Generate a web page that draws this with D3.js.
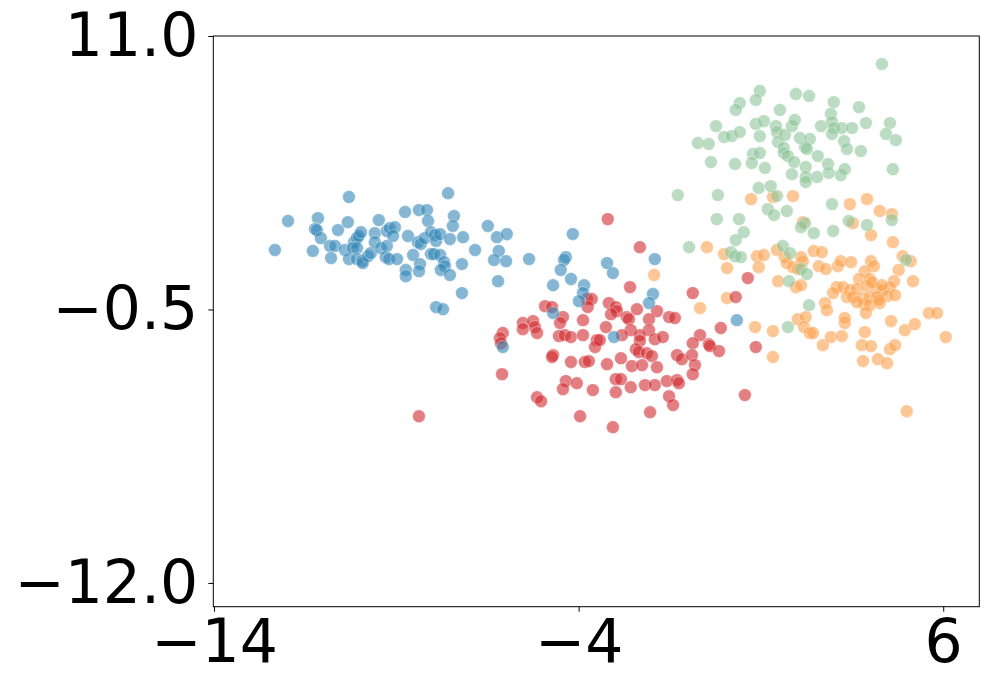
<!DOCTYPE html>
<html>
<head>
<meta charset="utf-8">
<script src="https://cdn.jsdelivr.net/npm/d3@7"></script>
<style>
  body { margin: 0; background: #fff; }
  #grafico text { font-family: "DejaVu Sans", sans-serif; }
</style>
</head>
<body>
<div id="grafico"></div>
<script>
// DATOS: cada grupo como pares [x, y]
var grupoAzul = [
  [-11.15,3.34],[-11.23,2.88],[-11.18,2.84],[-11.07,2.50],[-11.29,1.96],[-10.82,2.17],[-10.68,2.17],[-10.79,1.66],[-10.60,2.84],[-10.33,3.17],
  [-10.41,2.00],[-10.30,1.62],[-10.16,2.33],[-10.08,2.50],[-10.03,2.59],[-9.97,2.75],[-10.19,2.08],[-10.08,2.08],[-10.08,1.62],[-9.94,1.53],
  [-9.92,1.45],[-9.78,1.74],[-9.70,1.87],[-9.59,2.71],[-9.59,2.33],[-9.48,3.26],[-9.42,2.08],[-9.26,2.17],[-9.26,2.80],[-9.18,2.92],
  [-9.04,2.96],[-9.09,2.59],[-9.29,1.70],[-9.20,1.62],[-8.98,1.62],[-8.76,3.60],[-8.68,2.59],[-8.74,1.16],[-8.74,0.90],[-8.54,1.79],
  [-8.38,3.68],[-8.16,3.68],[-8.13,3.22],[-8.41,2.33],[-8.33,2.25],[-8.22,2.50],[-8.05,2.75],[-7.94,2.63],[-7.91,2.38],[-7.80,2.67],
  [-8.35,1.41],[-8.38,1.11],[-8.05,1.83],[-7.97,1.83],[-7.80,1.79],[-7.53,2.46],[-7.42,3.43],[-7.45,3.01],[-7.69,1.49],[-7.67,1.32],
  [-7.78,1.16],[-7.53,0.95],[-10.30,4.23],[-7.58,4.39],[-11.97,3.22],[-12.33,2.00],[-7.20,0.19],[-7.91,-0.40],[-7.72,-0.49],[-7.17,2.54],
  [-7.20,1.41],[-6.84,2.00],[-6.49,3.01],[-6.24,2.54],[-5.97,2.67],[-6.19,1.96],[-6.32,1.58],[-5.99,1.53],[-6.21,0.69],[-5.36,1.62],
  [-4.16,2.67],[-4.35,1.70],[-4.40,1.58],[-4.49,1.16],[-4.21,0.78],[-4.70,0.52],[-3.85,0.52],[-3.88,0.19],[-3.99,-0.15],[-4.70,-0.65],
  [-6.08,-2.08],[-3.22,1.45],[-3.06,1.03],[-1.91,1.62],[-1.96,0.15],[-2.07,-0.23],[-3.03,-1.66],[0.34,-0.95]
];
var grupoRojo = [
  [-4.92,-0.36],[-4.73,-0.40],[-4.43,-0.82],[-4.51,-1.07],[-3.88,-0.95],[-3.77,-0.06],[-3.64,-0.06],[-3.75,-0.40],[-5.53,-1.07],[-5.25,-0.99],
  [-5.53,-1.33],[-5.20,-1.24],[-5.14,-1.49],[-6.08,-1.49],[-6.16,-1.71],[-6.13,-1.92],[-4.54,-1.62],[-4.38,-1.58],[-4.21,-1.66],[-3.88,-1.58],
  [-3.50,-1.79],[-3.55,-2.08],[-4.70,-2.42],[-4.73,-2.50],[-4.21,-2.71],[-3.83,-2.71],[-3.72,-2.67],[-6.10,-3.22],[-4.35,-3.51],[-4.05,-3.60],
  [-4.43,-3.85],[-3.61,-3.89],[-5.14,-4.19],[-5.03,-4.36],[-3.96,-4.99],[-8.38,-4.99],[-3.20,3.30],[-2.32,2.12],[-2.59,0.44],[-0.87,0.19],
  [0.31,0.02],[0.64,0.82],[-3.17,-0.23],[-2.98,-0.40],[-2.95,-0.57],[-2.40,-0.49],[-1.85,-0.57],[-2.68,-0.82],[-2.62,-0.91],[-3.11,-0.70],
  [-2.07,-0.91],[-1.52,-0.82],[-1.36,-0.86],[-3.25,-1.24],[-2.57,-1.37],[-2.07,-1.37],[-2.81,-1.58],[-2.32,-1.58],[-1.91,-1.75],[-1.69,-1.66],
  [-3.42,-1.79],[-2.32,-1.83],[-2.43,-2.17],[-2.35,-2.29],[-2.13,-2.34],[-1.99,-2.46],[-0.67,-1.58],[-0.87,-1.92],[-0.43,-1.96],[-0.40,-2.04],
  [-0.10,-1.28],[-0.15,-2.25],[0.86,-2.08],[-2.84,-2.55],[-3.22,-2.80],[-2.54,-2.88],[-2.26,-2.84],[-1.85,-2.93],[-1.30,-2.42],[-1.17,-2.59],
  [-0.89,-2.42],[-0.81,-2.84],[-0.87,-3.22],[-2.98,-3.43],[-2.84,-3.43],[-2.98,-3.98],[-2.57,-3.77],[-2.18,-3.68],[-1.91,-3.68],[-1.58,-3.51],
  [-1.30,-3.47],[-1.25,-3.60],[-1.52,-4.15],[-1.41,-4.52],[-2.04,-4.82],[-3.06,-5.45],[0.56,-4.10]
];
var grupoVerde = [
  [4.32,9.82],[0.97,8.69],[0.86,8.31],[0.42,8.18],[0.31,7.89],[1.96,8.56],[2.32,8.48],[1.52,7.89],[3.00,8.22],[3.69,8.01],
  [2.92,7.72],[-0.23,7.21],[-0.01,6.75],[0.20,6.79],[0.42,6.96],[-0.73,6.50],[-0.43,6.46],[0.86,7.30],[1.08,7.42],[0.97,6.79],
  [1.41,7.21],[1.44,6.96],[1.47,6.54],[1.66,6.84],[1.85,7.21],[1.93,7.47],[2.07,6.71],[2.34,6.67],[2.21,6.33],[2.26,6.25],
  [1.63,6.29],[1.63,6.08],[1.74,5.95],[1.91,5.70],[2.56,5.95],[2.65,7.21],[2.95,7.38],[3.00,7.13],[2.95,6.88],[3.22,7.13],
  [3.50,7.13],[3.28,6.58],[3.36,6.25],[3.88,7.34],[4.54,7.34],[4.43,6.88],[4.70,6.62],[3.74,6.16],[0.78,6.04],[0.97,6.08],
  [0.75,5.66],[1.11,5.45],[-0.37,5.70],[0.29,5.62],[1.85,5.19],[2.23,5.49],[2.23,5.07],[2.23,4.86],[2.54,5.07],[2.84,5.62],
  [2.86,5.24],[3.19,5.15],[3.30,5.40],[4.62,5.40],[0.94,4.61],[1.27,4.69],[-1.28,4.31],[-0.18,4.31],[1.44,4.27],[1.19,3.72],
  [1.36,3.47],[1.71,3.64],[-0.21,3.30],[0.40,3.30],[0.53,2.75],[0.31,2.42],[-0.97,2.12],[0.18,1.91],[0.29,1.74],[0.45,1.70],
  [1.60,2.17],[1.80,1.87],[2.21,3.13],[2.10,2.96],[2.45,2.71],[2.95,3.93],[2.98,2.80],[3.41,3.22],[3.91,3.05],[4.59,3.26],
  [4.98,1.58],[2.10,1.20],[2.26,0.99],[1.77,0.69],[2.32,-0.32],[1.74,-1.24]
];
var grupoNaranja = [
  [-1.93,0.95],[0.84,-1.24],[0.73,4.14],[1.33,4.23],[1.88,4.27],[2.15,3.17],[3.44,3.93],[3.91,4.14],[4.26,3.64],[4.59,3.51],
  [3.52,3.13],[4.02,2.63],[4.62,2.33],[-0.48,2.12],[-0.01,1.83],[0.07,1.24],[0.89,1.74],[1.08,1.79],[0.94,1.28],[1.44,2.00],
  [1.66,1.70],[1.71,1.45],[2.10,1.70],[2.15,1.53],[1.88,1.28],[2.01,1.20],[2.45,1.96],[2.67,1.91],[2.59,1.32],[2.78,1.20],
  [3.11,1.32],[3.19,1.53],[3.47,1.49],[4.02,1.53],[4.10,1.32],[3.85,1.11],[4.89,1.74],[5.11,1.53],[4.78,1.16],[1.47,0.69],
  [1.96,0.44],[2.10,0.52],[3.69,0.78],[3.99,0.78],[4.65,0.69],[5.17,0.69],[3.08,0.44],[3.25,0.44],[2.98,0.19],[3.44,0.31],
  [3.63,0.36],[3.91,0.48],[4.18,0.36],[4.35,0.31],[4.54,0.44],[3.36,0.02],[3.52,0.02],[3.80,-0.02],[3.99,0.02],[4.18,0.02],
  [4.46,0.06],[4.68,0.10],[0.07,-0.02],[-0.67,-0.44],[2.76,-0.23],[3.83,-0.28],[3.99,-0.32],[4.26,-0.23],[1.33,-1.41],[1.33,-2.50],
  [2.01,-0.91],[2.23,-0.82],[2.18,-1.24],[2.34,-1.49],[2.43,-1.49],[2.81,-0.53],[2.70,-2.00],[2.92,-1.66],[3.22,-1.62],[3.30,-1.07],
  [3.88,-0.65],[3.85,-1.45],[3.77,-2.00],[4.02,-2.04],[3.80,-2.67],[4.21,-2.59],[4.46,-2.76],[4.57,-0.99],[4.95,-1.37],[5.22,-1.12],
  [4.54,-2.17],[4.68,-2.00],[5.61,-0.65],[5.83,-0.65],[6.07,-1.66],[5.00,-4.78],[4.04,0.65],[4.32,0.52],[3.63,-0.19],[3.30,-0.86],
  [4.24,-0.11]
];

// ticks de los ejes
var ticksX = [-14, -4, 6];
var ticksY = [11.0, -0.5, -12.0];

// orden de dibujo y colores
var grupos = [grupoNaranja, grupoRojo, grupoAzul, grupoVerde];
var colores = ['#fba24f', '#d02a2e', '#3387b8', '#8ec59a'];

var ancho = 992, alto = 691;
var margen = { izq: 213.3, der: 12.7, arriba: 36, abajo: 84.3 };

var svg = d3.select('#grafico').append('svg')
    .attr('width', ancho)
    .attr('height', alto);

// ---------ESCALAS------------
var scale_x = d3.scaleLinear()
    .domain([-14.02, 6.99])
    .range([margen.izq, ancho - margen.der]);

var scale_y = d3.scaleLinear()
    .domain([-13.0, 11.0])
    .range([alto - margen.abajo, margen.arriba]);

// PUNTOS
grupos.forEach(function (datos, i) {
    svg.append('g')
        .selectAll('circle')
        .data(datos)
        .enter()
        .append('circle')
        .attr('cx', function (d) { return scale_x(d[0]); })
        .attr('cy', function (d) { return scale_y(d[1]); })
        .attr('r', 6.4)
        .attr('fill', colores[i])
        .attr('fill-opacity', 0.6)
        .attr('stroke', '#fff')
        .attr('stroke-opacity', 0.45)
        .attr('stroke-width', 0.8);
});

// marco
svg.append('rect')
    .attr('x', scale_x.range()[0])
    .attr('y', scale_y.range()[1])
    .attr('width', scale_x.range()[1] - scale_x.range()[0])
    .attr('height', scale_y.range()[0] - scale_y.range()[1])
    .attr('fill', 'none')
    .attr('stroke', '#000')
    .attr('stroke-width', 1);

// EJE X
var ejeX = svg.append('g')
    .attr('transform', 'translate(0,' + (alto - margen.abajo) + ')')
    .call(d3.axisBottom(scale_x).tickValues(ticksX).tickFormat(d3.format('d')).tickSize(5).tickPadding(8));

// EJE Y
var ejeY = svg.append('g')
    .attr('transform', 'translate(' + margen.izq + ',0)')
    .call(d3.axisLeft(scale_y).tickValues(ticksY).tickFormat(d3.format('.1f')).tickSize(5).tickPadding(10));

[ejeX, ejeY].forEach(function (eje) {
    eje.select('.domain').remove();
    eje.selectAll('.tick line').attr('stroke', '#000').attr('stroke-width', 1);
    eje.selectAll('.tick text')
        .attr('fill', '#000')
        .attr('font-size', 60)
        .attr('font-family', '"DejaVu Sans", sans-serif');
});
</script>
</body>
</html>
